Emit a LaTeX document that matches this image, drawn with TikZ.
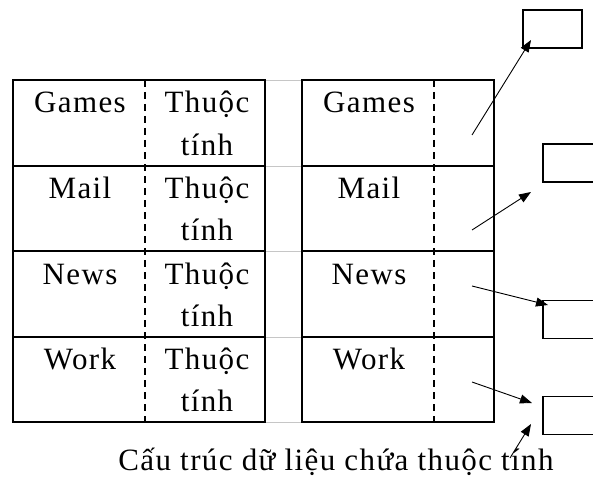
\documentclass[tikz,border=0pt]{standalone}
\usepackage{fontspec}
\setmainfont{Liberation Serif}[LetterSpace=4.5]
\usetikzlibrary{arrows.meta}
\tikzset{
  border/.style={line width=1.3pt},
  sep/.style={line width=1.3pt, dash pattern=on 7pt off 5pt},
  faint/.style={gray!45, line width=0.8pt},
  lbl/.style={anchor=base, inner sep=0pt, font=\fontsize{31}{37}\selectfont},
  captext/.style={anchor=base, inner sep=0pt, font=\fontsize{31}{37}\selectfont},
  attrbox/.style={draw, line width=1.3pt, minimum width=59pt, minimum height=38pt, inner sep=0pt},
  ptr/.style={line width=0.9pt, -{Triangle[length=12pt,width=9pt]}}
}
\begin{document}
\begin{tikzpicture}[x=1pt,y=-1pt]
\useasboundingbox (0,0) rectangle (593,497);
% faint lines between tables
\foreach \yy in {80,166,251,337,422} \draw[faint] (265,\yy) -- (302,\yy);
% left table
\draw[border] (13,80) rectangle (265,422);
\foreach \yy in {166,251,337} \draw[border] (13,\yy) -- (265,\yy);
\draw[sep] (145,80) -- (145,422);
% right table
\draw[border] (302,80) rectangle (494,422);
\foreach \yy in {166,251,337} \draw[border] (302,\yy) -- (494,\yy);
\draw[sep] (434,80) -- (434,422);
% left table texts
\node[lbl] (lg) at (80,113) {Games};
\node[lbl] (lgt1) at (207,113) {Thuộc};
\node[lbl] (lgt2) at (207,155) {tính};
\node[lbl] (lm) at (80,198) {Mail};
\node[lbl] (lmt1) at (207,198) {Thuộc};
\node[lbl] (lmt2) at (207,240) {tính};
\node[lbl] (ln) at (80,284) {News};
\node[lbl] (lnt1) at (207,284) {Thuộc};
\node[lbl] (lnt2) at (207,326) {tính};
\node[lbl] (lw) at (80,369) {Work};
\node[lbl] (lwt1) at (207,369) {Thuộc};
\node[lbl] (lwt2) at (207,411) {tính};
% right table texts
\node[lbl] (rg) at (369,113) {Games};
\node[lbl] (rm) at (369,198) {Mail};
\node[lbl] (rn) at (369,284) {News};
\node[lbl] (rw) at (369,369) {Work};
% attribute boxes
\node[attrbox] (b1) at (552.5,29) {};
\node[attrbox] (b2) at (572.5,163) {};
\node[attrbox] (b3) at (572.5,319.5) {};
\node[attrbox] (b4) at (572.5,415.5) {};
% caption
\node[captext] (capt) at (336,470) {Cấu trúc dữ liệu chứa thuộc tính};
% pointers
\coordinate (s1) at (472,135);
\coordinate (s2) at (472,230);
\coordinate (s3) at (472,286);
\coordinate (s4) at (472,382);
\coordinate (s5) at (510,458);
\coordinate (t1) at (531,40);
\coordinate (t2) at (531,192);
\coordinate (t3) at (548,305);
\coordinate (t4) at (532,403);
\coordinate (t5) at (531,424);
\draw[ptr] (s1) -- (t1);
\draw[ptr] (s2) -- (t2);
\draw[ptr] (s3) -- (t3);
\draw[ptr] (s4) -- (t4);
\draw[ptr] (s5) -- (t5);
\end{tikzpicture}
\end{document}
